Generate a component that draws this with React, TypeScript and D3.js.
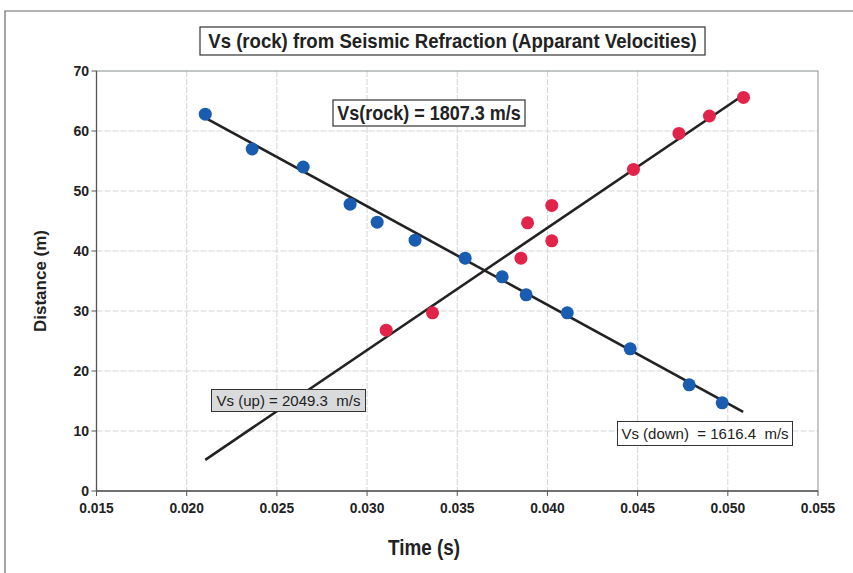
import React from "react";
import * as d3 from "d3";

const downTime = [0.02103, 0.02363, 0.02646, 0.02906, 0.03056, 0.03266, 0.03544, 0.03749, 0.03882, 0.0411, 0.04459, 0.04786, 0.04969];
const downDist = [62.8, 57.0, 54.0, 47.8, 44.8, 41.8, 38.8, 35.7, 32.7, 29.7, 23.7, 17.7, 14.7];
const upTime = [0.03106, 0.03363, 0.03853, 0.0389, 0.04024, 0.04024, 0.04477, 0.04729, 0.04898, 0.05087];
const upDist = [26.8, 29.7, 38.8, 44.7, 41.7, 47.6, 53.6, 59.6, 62.5, 65.6];
const downFitTime = [0.02103, 0.05085];
const downFitDist = [62.2, 13.2];
const upFitTime = [0.02103, 0.05087];
const upFitDist = [5.2, 66.0];
const xTicks = [0.015, 0.02, 0.025, 0.03, 0.035, 0.04, 0.045, 0.05, 0.055];
const yTicks = [0, 10, 20, 30, 40, 50, 60, 70];

const title = "Vs (rock) from Seismic Refraction (Apparant Velocities)";
const rockLabel = "Vs(rock) = 1807.3 m/s";
const upLabel = "Vs (up) = 2049.3  m/s";
const downLabel = "Vs (down)  = 1616.4  m/s";

const FONT = "'Liberation Sans', Arial, sans-serif";

export default function App() {
  const x = d3.scaleLinear().domain([0.015, 0.055]).range([96.5, 818]);
  const y = d3.scaleLinear().domain([0, 70]).range([491, 71]);
  const line = d3.line<[number, number]>().x(d => x(d[0])).y(d => y(d[1]));
  const downFit: [number, number][] = downFitTime.map((t, i) => [t, downFitDist[i]]);
  const upFit: [number, number][] = upFitTime.map((t, i) => [t, upFitDist[i]]);
  const blue = "#1a5cb0";
  const red = "#e3244a";
  return (
    <svg width={853} height={573} style={{ position: "absolute", left: 0, top: 0, background: "#fff" }}>
      <rect x={0} y={0} width={853} height={573} fill="#fff" />
      {/* outer frame */}
      <path d="M5,573 L5,11 L853,11" fill="none" stroke="#666" strokeWidth={1.2} />
      {/* grid */}
      {xTicks.slice(1, -1).map(t => (
        <line key={"gx" + t} x1={x(t)} x2={x(t)} y1={y(70)} y2={y(0)} stroke="#d2d6d9" strokeWidth={1} strokeDasharray="6,2" />
      ))}
      {yTicks.slice(1, -1).map(v => (
        <line key={"gy" + v} x1={x(0.015)} x2={x(0.055)} y1={y(v)} y2={y(v)} stroke="#d2d6d9" strokeWidth={1} strokeDasharray="6,2" />
      ))}
      {/* plot border */}
      <rect x={x(0.015)} y={y(70)} width={x(0.055) - x(0.015)} height={y(0) - y(70)} fill="none" stroke="#8a8f92" strokeWidth={1} />
      <line x1={x(0.015)} x2={x(0.015)} y1={y(70)} y2={y(0)} stroke="#555" strokeWidth={1.3} />
      <line x1={x(0.015)} x2={x(0.055)} y1={y(0)} y2={y(0)} stroke="#555" strokeWidth={1.3} />
      {/* ticks */}
      {yTicks.map(v => (
        <g key={"yt" + v}>
          <line x1={x(0.015) - 5} x2={x(0.015)} y1={y(v)} y2={y(v)} stroke="#555" />
          <text x={89} y={y(v)} dy="0.35em" textAnchor="end" fontFamily={FONT} fontWeight="bold" fontSize={14} fill="#222">{v}</text>
        </g>
      ))}
      {xTicks.map(t => (
        <g key={"xt" + t}>
          <line x1={x(t)} x2={x(t)} y1={y(0)} y2={y(0) + 5} stroke="#555" />
          <text transform={`translate(${x(t)},513) scale(0.92,1)`} textAnchor="middle" fontFamily={FONT} fontWeight="bold" fontSize={15} fill="#222">{d3.format(".3f")(t)}</text>
        </g>
      ))}
      {/* axis titles */}
      <text transform="translate(424,555) scale(0.86,1)" textAnchor="middle" fontFamily={FONT} fontWeight="bold" fontSize={22} fill="#222">Time (s)</text>
      <text transform="translate(46,281) rotate(-90)" textAnchor="middle" fontFamily={FONT} fontWeight="bold" fontSize={17} fill="#222">Distance (m)</text>
      {/* fits */}
      <path d={line(downFit) || ""} fill="none" stroke="#222" strokeWidth={2.6} />
      <path d={line(upFit) || ""} fill="none" stroke="#222" strokeWidth={2.6} />
      {/* points */}
      {downTime.map((t, i) => (
        <circle key={"d" + i} cx={x(t)} cy={y(downDist[i])} r={6.5} fill={blue} />
      ))}
      {upTime.map((t, i) => (
        <circle key={"u" + i} cx={x(t)} cy={y(upDist[i])} r={6.5} fill={red} />
      ))}
      {/* title */}
      <rect x={200} y={27} width={505} height={28} fill="#fff" stroke="#333" strokeWidth={1.2} />
      <text transform="translate(452.5,48) scale(0.93,1)" textAnchor="middle" fontFamily={FONT} fontWeight="bold" fontSize={20} fill="#222">{title}</text>
      {/* annotations */}
      <rect x={333} y={100} width={192} height={26} fill="#fff" stroke="#333" strokeWidth={1.2} />
      <text transform="translate(429,120) scale(0.9,1)" textAnchor="middle" fontFamily={FONT} fontWeight="bold" fontSize={20} fill="#222">{rockLabel}</text>
      <rect x={211.5} y={389.5} width={154} height={22} fill="#d9dadb" stroke="#333" strokeWidth={1} />
      <text x={288.5} y={406} textAnchor="middle" fontFamily={FONT} fontSize={15} fill="#222" style={{ whiteSpace: "pre" }}>{upLabel}</text>
      <rect x={617.5} y={421.5} width={175} height={24} fill="#fff" stroke="#333" strokeWidth={1} />
      <text x={705} y={439} textAnchor="middle" fontFamily={FONT} fontSize={15} fill="#222" style={{ whiteSpace: "pre" }}>{downLabel}</text>
    </svg>
  );
}
